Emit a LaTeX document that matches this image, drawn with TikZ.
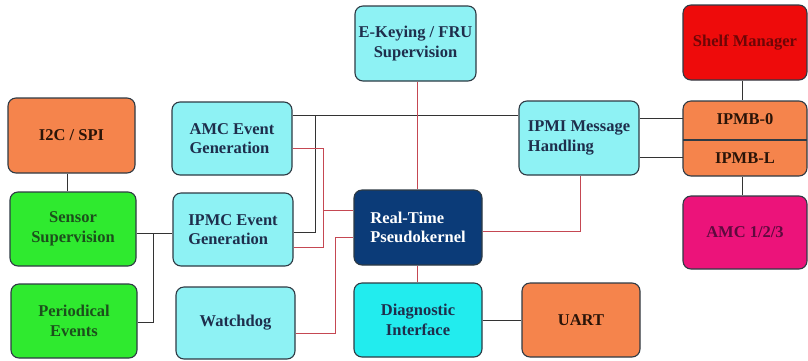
\documentclass[tikz,border=0pt]{standalone}
\usepackage{fontspec}
\setmainfont{Liberation Serif}[BoldFont={Liberation Serif Bold}]
\definecolor{bordc}{HTML}{2E3A44}
\definecolor{orng}{HTML}{F5844C}
\definecolor{orngtxt}{HTML}{2A1408}
\definecolor{grn}{HTML}{2FEA2F}
\definecolor{grntxt}{HTML}{1C4F1C}
\definecolor{lcyan}{HTML}{8EF2F4}
\definecolor{cyantxt}{HTML}{1E2E4C}
\definecolor{dcyan}{HTML}{22ECEE}
\definecolor{shelf}{HTML}{EE0B0B}
\definecolor{shelftxt}{HTML}{6E0606}
\definecolor{amcm}{HTML}{EC137A}
\definecolor{amctxt}{HTML}{5E0A3E}
\definecolor{rtp}{HTML}{0B3B78}
\definecolor{blk}{HTML}{333333}
\definecolor{redl}{HTML}{C54752}
\begin{document}
\begin{tikzpicture}[x=1pt,y=-1pt,
  box/.style={draw=bordc, line width=1.1pt, rounded corners=8pt, align=center, inner sep=0pt,
    font=\bfseries\fontsize{16.5}{19.5}\selectfont},
  sz/.style n args={2}{minimum width=#1pt, minimum height=#2pt},
  orbox/.style={box, fill=orng, text=orngtxt},
  grbox/.style={box, fill=grn, text=grntxt},
  cybox/.style={box, fill=lcyan, text=cyantxt},
  lbl/.style={inner sep=0pt, font=\bfseries\fontsize{16.5}{19.5}\selectfont},
  bl/.style={draw=blk, line width=1pt},
  rl/.style={draw=redl, line width=1pt}]
\useasboundingbox (0,0) rectangle (808,360);

% nodes
\node[orbox, sz={127}{75}] (i2c) at (71.5,135.5) {I2C / SPI};
\node[grbox, sz={126}{74}] (sensor) at (73,229) {Sensor\\Supervision};
\node[grbox, sz={126}{74}] (period) at (74,321) {Periodical\\Events};
\node[cybox, sz={120}{73}, align=left] (amc) at (232,138.5) {AMC Event\\Generation};
\node[cybox, sz={120}{73}, align=left] (ipmc) at (233,229.5) {IPMC Event\\Generation};
\node[cybox, sz={119}{72}] (wd) at (235.5,323) {Watchdog};
\node[cybox, sz={121}{75}] (ekey) at (415.5,43.5) {E-Keying / FRU\\Supervision};
\node[cybox, sz={120}{74}, align=left] (ipmi) at (579,138) {IPMI Message\\Handling};
\node[box, fill=shelf, text=shelftxt, sz={124}{75}] (shelf) at (745,42.5) {Shelf Manager};
\node[orbox, sz={124}{75}] (ipmb) at (745,138.5) {};
\node[box, fill=amcm, text=amctxt, sz={124}{73}] (amc123) at (745,232.5) {AMC 1/2/3};
\node[box, fill=rtp, text=white, sz={128}{75}, align=left] (rtp) at (418,227.5) {Real-Time\\Pseudokernel};
\node[box, fill=dcyan, text=cyantxt, sz={128}{74}] (diag) at (418,320) {Diagnostic\\Interface};
\node[orbox, sz={118}{74}] (uart) at (581,320) {UART};

% IPMB split
\coordinate (splitl) at (683,140);
\coordinate (splitr) at (807,140);
\draw[draw=bordc, line width=1.1pt] (splitl) -- (splitr);
\node[lbl, text=orngtxt, minimum width=124pt, minimum height=36pt] (ipmb0) at (745,119) {IPMB-0};
\node[lbl, text=orngtxt, minimum width=124pt, minimum height=36pt] (ipmbl) at (745,158) {IPMB-L};

% junction coordinates
\coordinate (j1) at (153,233);
\coordinate (j1b) at (153,322);
\coordinate (j2) at (315,115);
\coordinate (j2b) at (315,232);
\coordinate (r1a) at (323,148);
\coordinate (r1m) at (323,210);
\coordinate (r1b) at (323,247);
\coordinate (r2a) at (335,333);
\coordinate (r2b) at (335,237);
\coordinate (r3a) at (580,231);

% black connectors
\draw[bl] (i2c.south -| 67,0) -- (sensor.north -| 67,0);
\draw[bl] (sensor.east |- j1) -- (ipmc.west |- j1);
\draw[bl] (period.east |- j1b) -- (j1b) -- (j1);
\draw[bl] (amc.east |- j2) -- (ipmi.west |- j2);
\draw[bl] (j2) -- (j2b) -- (ipmc.east |- j2b);
\draw[bl] (ipmi.east |- 0,118) -- (ipmb0.west |- 0,118);
\draw[bl] (ipmi.east |- 0,157) -- (ipmbl.west |- 0,157);
\draw[bl] (shelf.south -| 742,0) -- (ipmb.north -| 742,0);
\draw[bl] (ipmb.south -| 742,0) -- (amc123.north -| 742,0);
\draw[bl] (diag.east) -- (uart.west);

% red connectors
\draw[rl] (ekey.south -| 417,0) -- (rtp.north -| 417,0);
\draw[rl] (amc.east |- r1a) -- (r1a) -- (r1b) -- (ipmc.east |- r1b);
\draw[rl] (r1m) -- (rtp.west |- r1m);
\draw[rl] (wd.east |- r2a) -- (r2a) -- (r2b) -- (rtp.west |- r2b);
\draw[rl] (rtp.south -| 417,0) -- (diag.north -| 417,0);
\draw[rl] (rtp.east |- r3a) -- (r3a) -- (ipmi.south -| r3a);
\end{tikzpicture}
\end{document}
